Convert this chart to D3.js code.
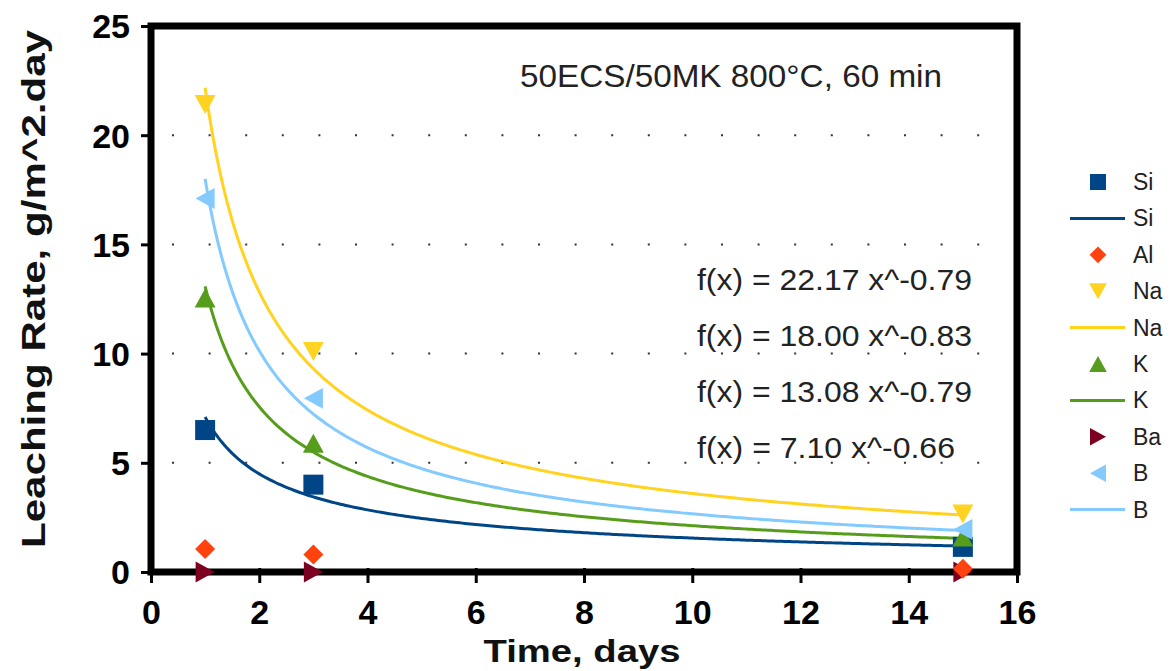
<!DOCTYPE html>
<html>
<head>
<meta charset="utf-8">
<script src="https://cdn.jsdelivr.net/npm/d3@7"></script>
<style>
  html, body { margin: 0; padding: 0; background: #fff; }
  svg { display: block; font-family: "Liberation Sans", Arial, sans-serif; }
</style>
</head>
<body>
<svg id="chart" width="1171" height="671"></svg>
<script>
// ---- data ----
const days = [1, 3, 15];
const siValues = [6.5, 4.0, 1.15];
const alValues = [1.05, 0.8, 0.15];
const naValues = [21.4, 10.1, 2.65];
const kValues = [12.55, 5.9, 1.6];
const baValues = [0.0, 0.0, 0.0];
const bValues = [17.1, 7.95, 1.95];

const seriesNames = ["Si", "Al", "Na", "K", "Ba", "B"];
const seriesColors = ["#004586", "#ff420e", "#ffd320", "#579d1c", "#7e0021", "#83caff"];
const seriesShapes = ["square", "diamond", "triDown", "triUp", "triRight", "triLeft"];

// power-law trend lines f(x) = a * x^b
const fitNames = ["Na", "B", "K", "Si"];
const fitA = [22.17, 18.00, 13.08, 7.10];
const fitB = [-0.79, -0.83, -0.79, -0.66];
const fitLabels = ["f(x) = 22.17 x^-0.79", "f(x) = 18.00 x^-0.83", "f(x) = 13.08 x^-0.79", "f(x) = 7.10 x^-0.66"];
const fitRange = [1, 15];

const legendItems = [
  ["Si", "marker"], ["Si", "line"], ["Al", "marker"], ["Na", "marker"], ["Na", "line"],
  ["K", "marker"], ["K", "line"], ["Ba", "marker"], ["B", "marker"], ["B", "line"]
];

const xTicks = [0, 2, 4, 6, 8, 10, 12, 14, 16];
const yTicks = [0, 5, 10, 15, 20, 25];
const gridValues = [5, 10, 15, 20];

const titleText = "50ECS/50MK 800°C, 60 min";
const xTitle = "Time, days";
const yTitle = "Leaching Rate, g/m^2.day";

// ---- drawing ----
const valuesBySeries = { Si: siValues, Al: alValues, Na: naValues, K: kValues, Ba: baValues, B: bValues };
const colorOf = n => seriesColors[seriesNames.indexOf(n)];
const shapeOf = n => seriesShapes[seriesNames.indexOf(n)];

const svg = d3.select("#chart");
const pL = 151, pR = 1017, pT = 26, pB = 572;
const x = d3.scaleLinear().domain([0, 16]).range([pL, pR]);
const y = d3.scaleLinear().domain([0, 25]).range([pB, pT]);

function markerPath(shape, s) {
  const h = s / 2;
  switch (shape) {
    case "square": return `M${-h},${-h}H${h}V${h}H${-h}Z`;
    case "diamond": return `M0,${-h * 1.05}L${h * 1.05},0L0,${h * 1.05}L${-h * 1.05},0Z`;
    case "triDown": return `M${-h * 1.1},${-h}L${h * 1.1},${-h}L0,${h}Z`;
    case "triUp": return `M${-h * 1.1},${h}L${h * 1.1},${h}L0,${-h}Z`;
    case "triRight": return `M${-h},${-h * 1.1}L${h},0L${-h},${h * 1.1}Z`;
    case "triLeft": return `M${h},${-h * 1.1}L${-h},0L${h},${h * 1.1}Z`;
  }
}

// grid dots
const grid = svg.append("g");
grid.selectAll("line").data(gridValues).join("line")
  .attr("x1", 172).attr("x2", 1005)
  .attr("y1", d => y(d)).attr("y2", d => y(d))
  .attr("stroke", "#333").attr("stroke-width", 2)
  .attr("stroke-dasharray", "2,34.6");

// y axis ticks + labels
const yAxis = d3.axisLeft(y).tickValues(yTicks).tickSize(10).tickPadding(11).tickFormat(d3.format("d"));
const gy = svg.append("g").attr("transform", `translate(${pL},0)`).call(yAxis);
gy.select(".domain").remove();
gy.selectAll(".tick line").attr("stroke", "#000").attr("stroke-width", 3);
gy.selectAll(".tick text").attr("font-size", 34).attr("font-weight", "bold").attr("fill", "#000")
  .attr("font-family", "Liberation Sans, Arial, sans-serif").attr("dy", "0.35em");

// x axis ticks + labels
const xAxis = d3.axisBottom(x).tickValues(xTicks).tickSize(11).tickPadding(17).tickFormat(d3.format("d"));
const gx = svg.append("g").attr("transform", `translate(0,${pB})`).call(xAxis);
gx.select(".domain").remove();
gx.selectAll(".tick line").attr("stroke", "#000").attr("stroke-width", 3).attr("y1", -4);
gx.selectAll(".tick text").attr("font-size", 34).attr("font-weight", "bold").attr("fill", "#000")
  .attr("font-family", "Liberation Sans, Arial, sans-serif");

// frame
svg.append("rect").attr("x", pL).attr("y", pT).attr("width", pR - pL).attr("height", pB - pT)
  .attr("fill", "none").attr("stroke", "#000").attr("stroke-width", 7);

// trend curves
const line = d3.line().x(d => x(d[0])).y(d => y(d[1])).curve(d3.curveLinear);
fitNames.forEach((n, i) => {
  const pts = d3.range(0, 281).map(k => {
    const t = fitRange[0] + (fitRange[1] - fitRange[0]) * k / 280;
    return [t, fitA[i] * Math.pow(t, fitB[i])];
  });
  svg.append("path").attr("d", line(pts)).attr("fill", "none")
    .attr("stroke", colorOf(n)).attr("stroke-width", 3);
});

// markers (draw order)
const drawOrder = ["Ba", "Al", "Si", "K", "B", "Na"];
drawOrder.forEach(n => {
  const vals = valuesBySeries[n];
  svg.append("g").selectAll("path").data(days.map((d, i) => [d, vals[i]])).join("path")
    .attr("transform", d => `translate(${x(d[0])},${y(d[1])})`)
    .attr("d", markerPath(shapeOf(n), n === "Si" ? 20 : 19))
    .attr("fill", colorOf(n));
});

// title annotation
svg.append("text").attr("x", 520).attr("y", 87).text(titleText)
  .attr("font-size", 31).attr("fill", "#222")
  .attr("textLength", 422).attr("lengthAdjust", "spacingAndGlyphs");

// equations
svg.append("g").selectAll("text").data(fitLabels).join("text")
  .attr("x", 697).attr("y", (d, i) => 290 + i * 56)
  .attr("font-size", 29).attr("fill", "#222")
  .attr("textLength", (d, i) => i === 3 ? 258 : 275).attr("lengthAdjust", "spacingAndGlyphs")
  .text(d => d);

// axis titles
svg.append("text").attr("x", 582).attr("y", 662).attr("text-anchor", "middle")
  .attr("font-size", 32).attr("font-weight", "bold").attr("fill", "#111")
  .attr("textLength", 197).attr("lengthAdjust", "spacingAndGlyphs")
  .text(xTitle);
svg.append("text").attr("transform", "translate(45,289) rotate(-90)").attr("text-anchor", "middle")
  .attr("font-size", 34).attr("font-weight", "bold").attr("fill", "#111")
  .attr("textLength", 518).attr("lengthAdjust", "spacingAndGlyphs")
  .text(yTitle);

// legend
const lg = svg.append("g");
legendItems.forEach((it, i) => {
  const [n, kind] = it;
  const cy = 182 + i * 36.4;
  if (kind === "marker") {
    lg.append("path").attr("transform", `translate(1098,${cy})`)
      .attr("d", markerPath(shapeOf(n), 16)).attr("fill", colorOf(n));
  } else {
    lg.append("line").attr("x1", 1070).attr("x2", 1125).attr("y1", cy).attr("y2", cy)
      .attr("stroke", colorOf(n)).attr("stroke-width", 3);
  }
  lg.append("text").attr("x", 1133).attr("y", cy + 8).attr("font-size", 23).attr("fill", "#222").text(n);
});
</script>
</body>
</html>
